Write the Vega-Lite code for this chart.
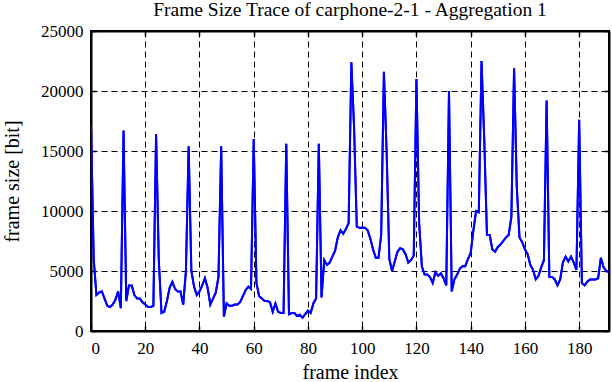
{
  "$schema": "https://vega.github.io/schema/vega-lite/v6.json",
  "width": 518,
  "height": 300,
  "autosize": {"type": "none"},
  "padding": {"left": 91, "top": 31, "right": 3, "bottom": 51},
  "background": "white",
  "title": {
    "text": "Frame Size Trace of carphone-2-1 - Aggregation 1",
    "font": "Liberation Serif",
    "fontSize": 19.5,
    "fontWeight": "normal",
    "color": "black",
    "baseline": "alphabetic",
    "offset": 5,
    "dy": 18,
    "anchor": "middle",
    "frame": "group"
  },
  "config": {
    "view": {"stroke": "black", "strokeWidth": 2},
    "axis": {
      "labelFont": "Liberation Serif",
      "labelFontSize": 17,
      "labelColor": "black",
      "titleFont": "Liberation Serif",
      "titleFontSize": 20,
      "titleFontWeight": "normal",
      "titleColor": "black",
      "domainColor": "black",
      "domainWidth": 2,
      "tickColor": "black",
      "tickWidth": 1.5,
      "gridColor": "black",
      "gridDash": [6, 4],
      "gridWidth": 1,
      "gridOpacity": 1
    }
  },
  "data": {
    "values": [
      {"frame": 0, "size": 17200}, {"frame": 1, "size": 6000}, {"frame": 2, "size": 3000}, {"frame": 3, "size": 3200},
      {"frame": 4, "size": 3300}, {"frame": 5, "size": 2700}, {"frame": 6, "size": 2100}, {"frame": 7, "size": 2000},
      {"frame": 8, "size": 2200}, {"frame": 9, "size": 2600}, {"frame": 10, "size": 3300}, {"frame": 11, "size": 1900},
      {"frame": 12, "size": 16700}, {"frame": 13, "size": 2500}, {"frame": 14, "size": 3800}, {"frame": 15, "size": 3800},
      {"frame": 16, "size": 3000}, {"frame": 17, "size": 2700}, {"frame": 18, "size": 2700}, {"frame": 19, "size": 2400},
      {"frame": 20, "size": 2200}, {"frame": 21, "size": 2000}, {"frame": 22, "size": 2000}, {"frame": 23, "size": 2100},
      {"frame": 24, "size": 16400}, {"frame": 25, "size": 5900}, {"frame": 26, "size": 1500}, {"frame": 27, "size": 1600},
      {"frame": 28, "size": 2500}, {"frame": 29, "size": 3600}, {"frame": 30, "size": 4100}, {"frame": 31, "size": 3500},
      {"frame": 32, "size": 3300}, {"frame": 33, "size": 3300}, {"frame": 34, "size": 2200}, {"frame": 35, "size": 5000},
      {"frame": 36, "size": 15400}, {"frame": 37, "size": 5000}, {"frame": 38, "size": 3700}, {"frame": 39, "size": 3000},
      {"frame": 40, "size": 3300}, {"frame": 41, "size": 3800}, {"frame": 42, "size": 4400}, {"frame": 43, "size": 3600},
      {"frame": 44, "size": 2200}, {"frame": 45, "size": 2700}, {"frame": 46, "size": 3200}, {"frame": 47, "size": 4500},
      {"frame": 48, "size": 15400}, {"frame": 49, "size": 1200}, {"frame": 50, "size": 2300}, {"frame": 51, "size": 2100},
      {"frame": 52, "size": 2100}, {"frame": 53, "size": 2200}, {"frame": 54, "size": 2200}, {"frame": 55, "size": 2400},
      {"frame": 56, "size": 2900}, {"frame": 57, "size": 3400}, {"frame": 58, "size": 3700}, {"frame": 59, "size": 3500},
      {"frame": 60, "size": 16000}, {"frame": 61, "size": 4000}, {"frame": 62, "size": 2900}, {"frame": 63, "size": 2700},
      {"frame": 64, "size": 2500}, {"frame": 65, "size": 2500}, {"frame": 66, "size": 2400}, {"frame": 67, "size": 1600},
      {"frame": 68, "size": 2300}, {"frame": 69, "size": 1600}, {"frame": 70, "size": 1500}, {"frame": 71, "size": 1500},
      {"frame": 72, "size": 15600}, {"frame": 73, "size": 1400}, {"frame": 74, "size": 1500}, {"frame": 75, "size": 1500},
      {"frame": 76, "size": 1250}, {"frame": 77, "size": 1350}, {"frame": 78, "size": 1100}, {"frame": 79, "size": 1400},
      {"frame": 80, "size": 1700}, {"frame": 81, "size": 1500}, {"frame": 82, "size": 2300}, {"frame": 83, "size": 2700},
      {"frame": 84, "size": 15600}, {"frame": 85, "size": 2800}, {"frame": 86, "size": 5900}, {"frame": 87, "size": 5500},
      {"frame": 88, "size": 5700}, {"frame": 89, "size": 6200}, {"frame": 90, "size": 6700}, {"frame": 91, "size": 7800},
      {"frame": 92, "size": 8400}, {"frame": 93, "size": 8100}, {"frame": 94, "size": 8500}, {"frame": 95, "size": 9000},
      {"frame": 96, "size": 22400}, {"frame": 97, "size": 17000}, {"frame": 98, "size": 8700}, {"frame": 99, "size": 8600},
      {"frame": 100, "size": 8600}, {"frame": 101, "size": 8600}, {"frame": 102, "size": 8400}, {"frame": 103, "size": 7700},
      {"frame": 104, "size": 6800}, {"frame": 105, "size": 6100}, {"frame": 106, "size": 6100}, {"frame": 107, "size": 8000},
      {"frame": 108, "size": 21600}, {"frame": 109, "size": 15000}, {"frame": 110, "size": 6000}, {"frame": 111, "size": 5000},
      {"frame": 112, "size": 5800}, {"frame": 113, "size": 6600}, {"frame": 114, "size": 6900}, {"frame": 115, "size": 6800},
      {"frame": 116, "size": 6400}, {"frame": 117, "size": 5700}, {"frame": 118, "size": 5900}, {"frame": 119, "size": 6300},
      {"frame": 120, "size": 21000}, {"frame": 121, "size": 9000}, {"frame": 122, "size": 5400}, {"frame": 123, "size": 4700},
      {"frame": 124, "size": 4700}, {"frame": 125, "size": 4500}, {"frame": 126, "size": 4000}, {"frame": 127, "size": 4900},
      {"frame": 128, "size": 4600}, {"frame": 129, "size": 4800}, {"frame": 130, "size": 4400}, {"frame": 131, "size": 3800},
      {"frame": 132, "size": 20000}, {"frame": 133, "size": 3300}, {"frame": 134, "size": 4300}, {"frame": 135, "size": 4700},
      {"frame": 136, "size": 5200}, {"frame": 137, "size": 5400}, {"frame": 138, "size": 5400}, {"frame": 139, "size": 6000},
      {"frame": 140, "size": 6500}, {"frame": 141, "size": 8400}, {"frame": 142, "size": 10000}, {"frame": 143, "size": 9900},
      {"frame": 144, "size": 22500}, {"frame": 145, "size": 16000}, {"frame": 146, "size": 8000}, {"frame": 147, "size": 8000},
      {"frame": 148, "size": 6800}, {"frame": 149, "size": 6600}, {"frame": 150, "size": 7000}, {"frame": 151, "size": 7200},
      {"frame": 152, "size": 7500}, {"frame": 153, "size": 7800}, {"frame": 154, "size": 8000}, {"frame": 155, "size": 9500},
      {"frame": 156, "size": 21900}, {"frame": 157, "size": 12000}, {"frame": 158, "size": 7800}, {"frame": 159, "size": 7400},
      {"frame": 160, "size": 6800}, {"frame": 161, "size": 6400}, {"frame": 162, "size": 5500}, {"frame": 163, "size": 5100},
      {"frame": 164, "size": 4300}, {"frame": 165, "size": 4600}, {"frame": 166, "size": 5300}, {"frame": 167, "size": 5900},
      {"frame": 168, "size": 19200}, {"frame": 169, "size": 4500}, {"frame": 170, "size": 4500}, {"frame": 171, "size": 4300},
      {"frame": 172, "size": 3800}, {"frame": 173, "size": 4300}, {"frame": 174, "size": 5700}, {"frame": 175, "size": 6200},
      {"frame": 176, "size": 5800}, {"frame": 177, "size": 6200}, {"frame": 178, "size": 5700}, {"frame": 179, "size": 5100},
      {"frame": 180, "size": 17600}, {"frame": 181, "size": 4000}, {"frame": 182, "size": 3800}, {"frame": 183, "size": 4100},
      {"frame": 184, "size": 4300}, {"frame": 185, "size": 4300}, {"frame": 186, "size": 4300}, {"frame": 187, "size": 4400},
      {"frame": 188, "size": 6100}, {"frame": 189, "size": 5300}, {"frame": 190, "size": 5000}, {"frame": 191, "size": 4900}
    ]
  },
  "layer": [
    {
      "mark": {"type": "line", "color": "#0000FF", "strokeWidth": 2, "clip": true},
      "encoding": {
        "x": {
          "field": "frame", "type": "quantitative",
          "scale": {"domain": [0, 191], "nice": false, "zero": false},
          "axis": {
            "orient": "bottom", "title": "frame index",
            "labelFont": "Liberation Serif", "titleFont": "Liberation Serif",
            "values": [0, 20, 40, 60, 80, 100, 120, 140, 160, 180],
            "grid": true, "tickSize": -5, "labelPadding": 14, "titlePadding": 6
          }
        },
        "y": {
          "field": "size", "type": "quantitative",
          "scale": {"domain": [0, 25000], "nice": false},
          "axis": {
            "orient": "left", "title": "frame size [bit]", "format": "d",
            "labelFont": "Liberation Serif", "titleFont": "Liberation Serif",
            "values": [0, 5000, 10000, 15000, 20000, 25000],
            "grid": true, "tickSize": -5, "labelPadding": 13, "titlePadding": 18
          }
        }
      }
    },
    {
      "mark": {"type": "line", "color": "#0000FF", "strokeWidth": 2, "clip": true},
      "encoding": {
        "x": {
          "field": "frame", "type": "quantitative",
          "axis": {
            "orient": "top", "title": null, "labels": false,
            "values": [0, 20, 40, 60, 80, 100, 120, 140, 160, 180],
            "grid": false, "tickSize": -5
          }
        },
        "y": {
          "field": "size", "type": "quantitative",
          "axis": {
            "orient": "right", "title": null, "labels": false,
            "values": [0, 5000, 10000, 15000, 20000, 25000],
            "grid": false, "tickSize": -5
          }
        }
      }
    }
  ],
  "resolve": {"axis": {"x": "independent", "y": "independent"}}
}
